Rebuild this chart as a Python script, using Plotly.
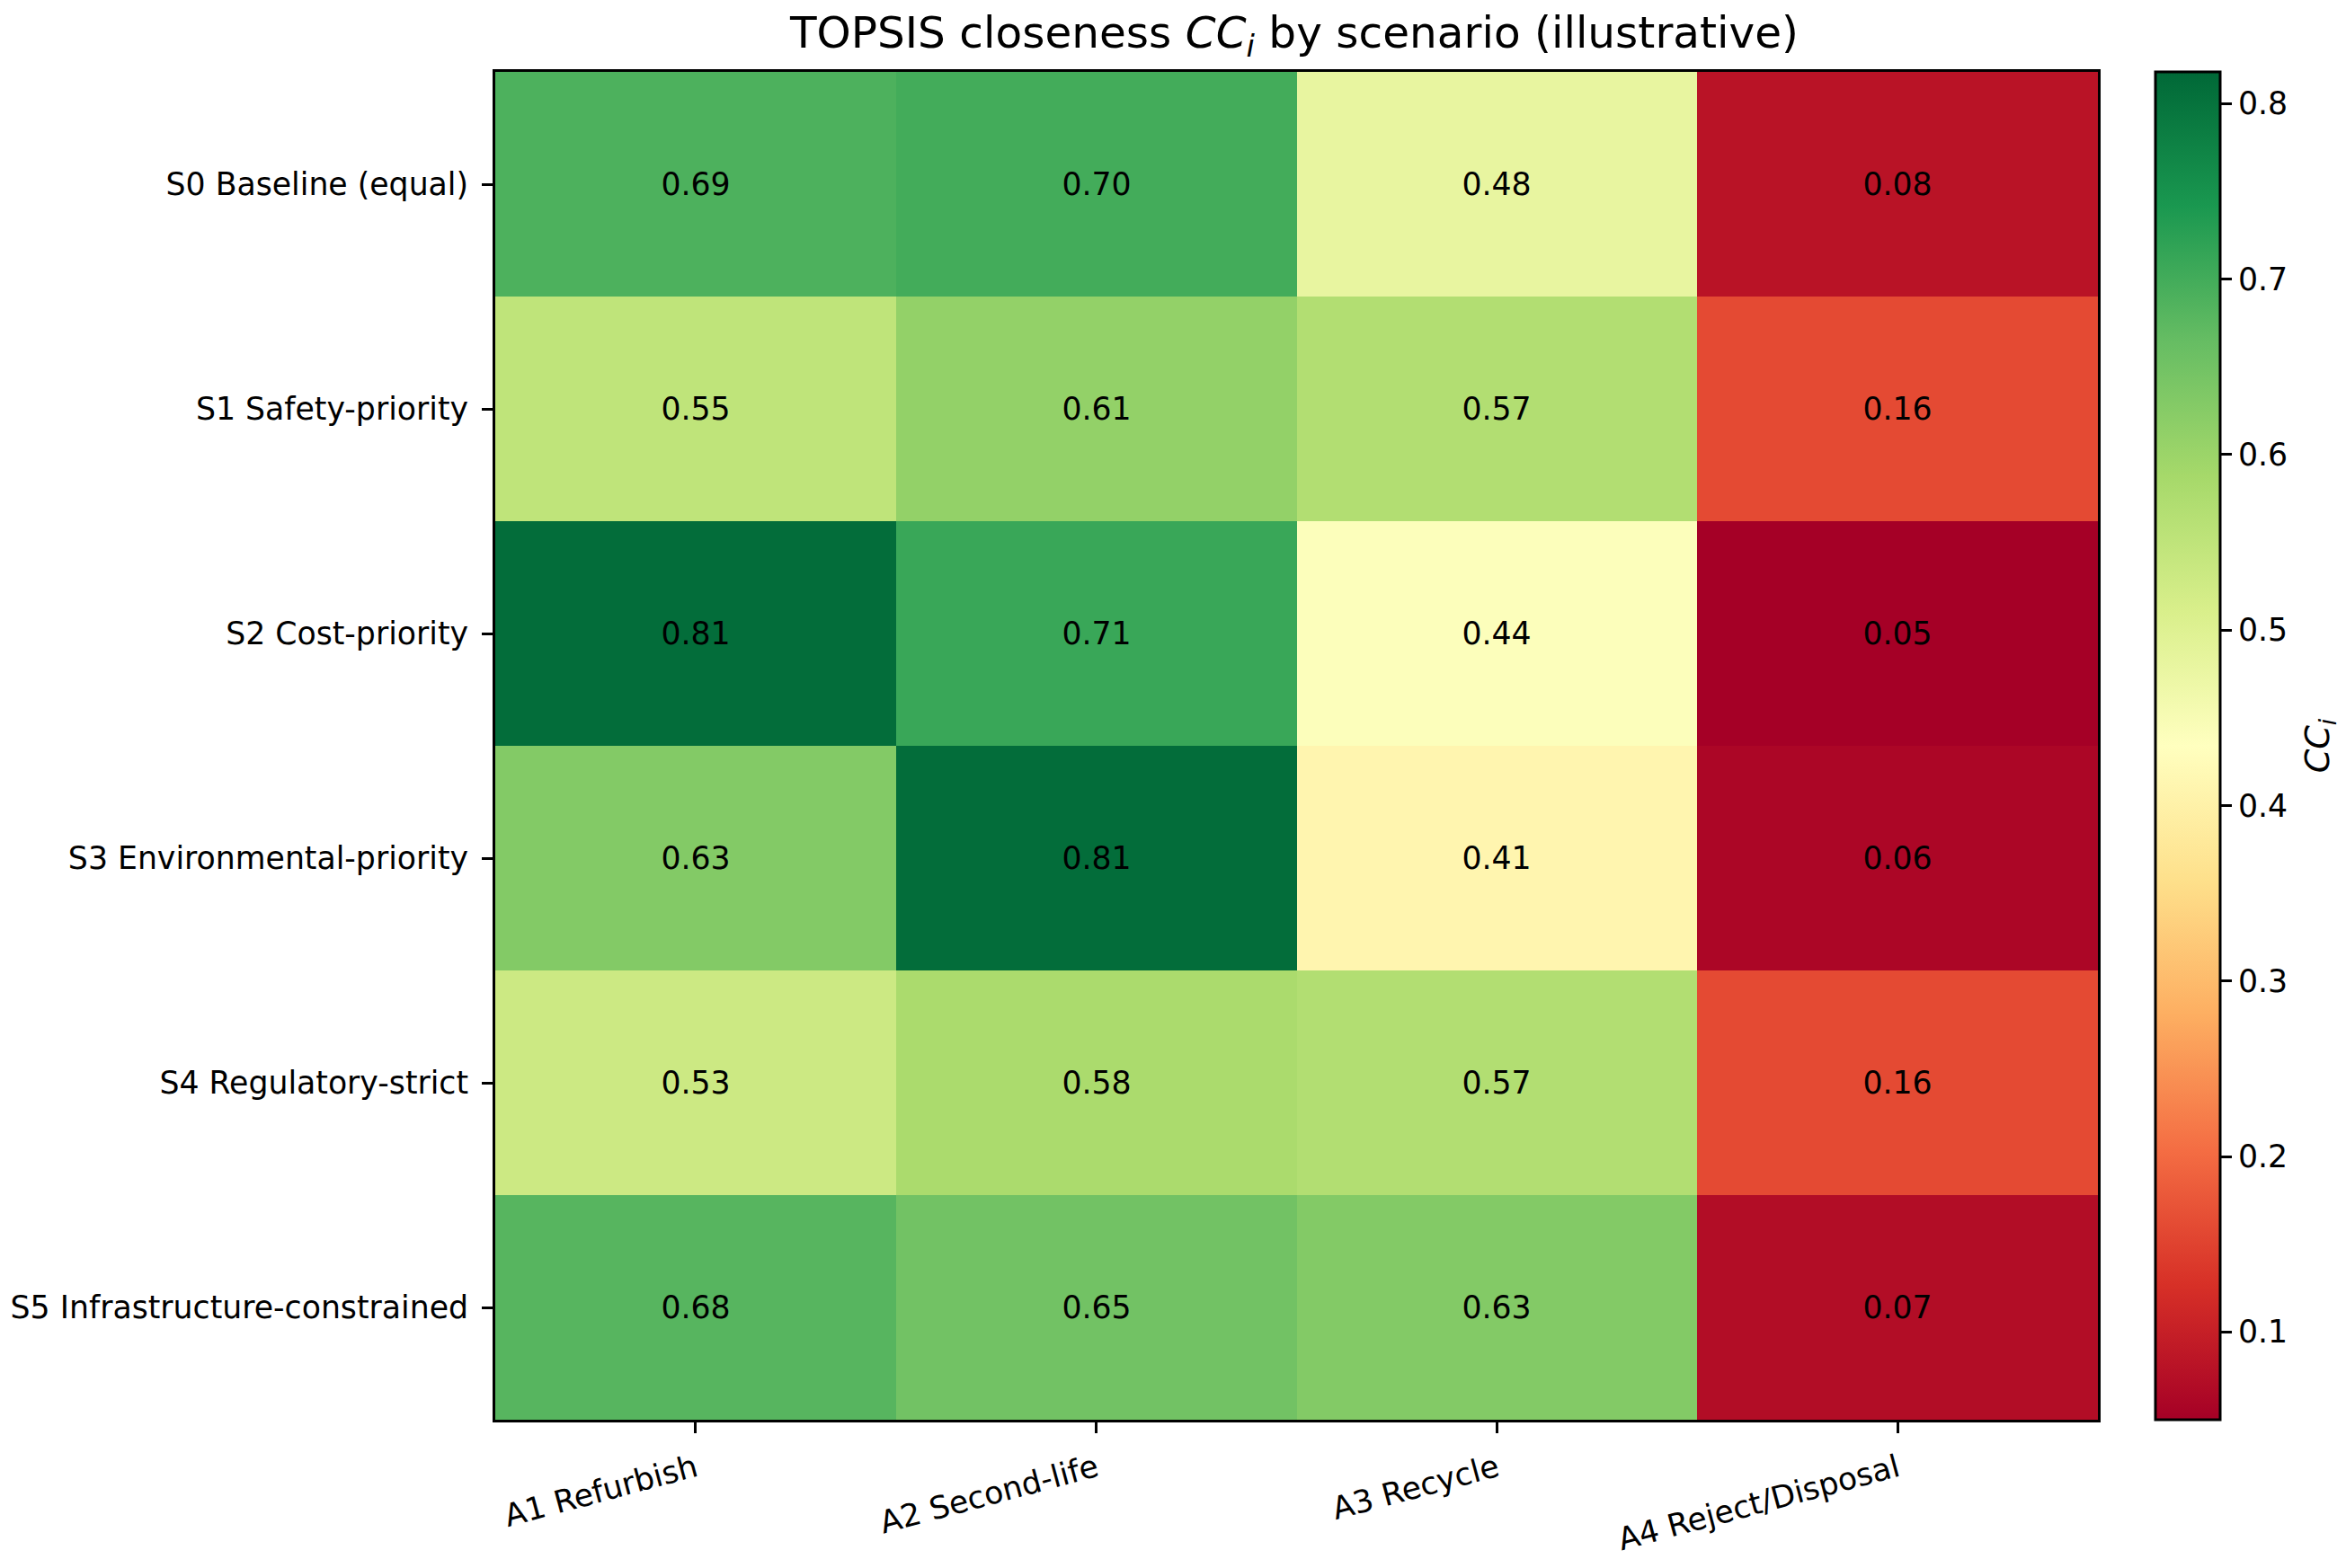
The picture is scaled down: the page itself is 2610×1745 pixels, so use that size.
import plotly.graph_objects as go

scenarios = [
    "S0 Baseline (equal)",
    "S1 Safety-priority",
    "S2 Cost-priority",
    "S3 Environmental-priority",
    "S4 Regulatory-strict",
    "S5 Infrastructure-constrained",
]
alternatives = ["A1 Refurbish", "A2 Second-life", "A3 Recycle", "A4 Reject/Disposal"]

cc_s0 = [0.69, 0.70, 0.48, 0.08]
cc_s1 = [0.55, 0.61, 0.57, 0.16]
cc_s2 = [0.81, 0.71, 0.44, 0.05]
cc_s3 = [0.63, 0.81, 0.41, 0.06]
cc_s4 = [0.53, 0.58, 0.57, 0.16]
cc_s5 = [0.68, 0.65, 0.63, 0.07]
z = [cc_s0, cc_s1, cc_s2, cc_s3, cc_s4, cc_s5]

cbar_ticks = [0.1, 0.2, 0.3, 0.4, 0.5, 0.6, 0.7, 0.8]

W, H = 2610, 1745
L, R, T, B = 546, 2334, 80, 1590
FS = 34.7
FONT = "DejaVu Sans"

fig = go.Figure(
    go.Heatmap(
        z=z,
        x=alternatives,
        y=scenarios,
        colorscale="RdYlGn",
        zmin=0.05,
        zmax=0.818,
        texttemplate="%{z:.2f}",
        textfont=dict(family=FONT, size=FS, color="black"),
        colorbar=dict(
            x=(2398 - L) / (R - L),
            xanchor="left",
            xpad=0,
            ypad=0,
            y=0.5,
            yanchor="middle",
            len=1,
            lenmode="fraction",
            thickness=72,
            thicknessmode="pixels",
            outlinecolor="black",
            outlinewidth=3,
            tickvals=cbar_ticks,
            ticktext=[f"{v:.1f}" for v in cbar_ticks],
            ticks="outside",
            ticklen=12,
            tickwidth=2.5,
            tickcolor="black",
            tickfont=dict(family=FONT, size=FS, color="black"),
        ),
        hoverongaps=False,
    )
)

fig.update_layout(
    width=W,
    height=H,
    margin=dict(l=L, r=W - R, t=T, b=H - B),
    paper_bgcolor="white",
    plot_bgcolor="white",
    font=dict(family=FONT, size=FS, color="black"),
    title=dict(
        text="TOPSIS closeness <i>CC<sub>i</sub></i> by scenario (illustrative)",
        x=(L + R) / 2 / W,
        xanchor="center",
        xref="container",
        y=1 - 36 / H,
        yanchor="middle",
        yref="container",
        font=dict(family=FONT, size=48.5, color="black"),
    ),
    xaxis=dict(
        tickangle=-15,
        ticks="outside",
        ticklen=12,
        tickwidth=2.5,
        tickcolor="black",
        showline=True,
        mirror=True,
        linecolor="black",
        linewidth=3,
        showgrid=False,
        zeroline=False,
        tickfont=dict(family=FONT, size=FS, color="black"),
        ticklabelstandoff=6,
    ),
    yaxis=dict(
        autorange="reversed",
        ticks="outside",
        ticklen=12,
        tickwidth=2.5,
        tickcolor="black",
        showline=True,
        mirror=True,
        linecolor="black",
        linewidth=3,
        showgrid=False,
        zeroline=False,
        tickfont=dict(family=FONT, size=FS, color="black"),
        ticklabelstandoff=8,
    ),
    annotations=[
        dict(
            text="<i>CC<sub>i</sub></i>",
            xref="paper",
            yref="paper",
            x=(2581 - L) / (R - L),
            y=0.5,
            xanchor="center",
            yanchor="middle",
            textangle=-90,
            showarrow=False,
            font=dict(family=FONT, size=38, color="black"),
        )
    ],
)

fig.write_html(
    "out.html",
    config={"displayModeBar": False},
    post_script="document.body.style.margin='0px';",
)
